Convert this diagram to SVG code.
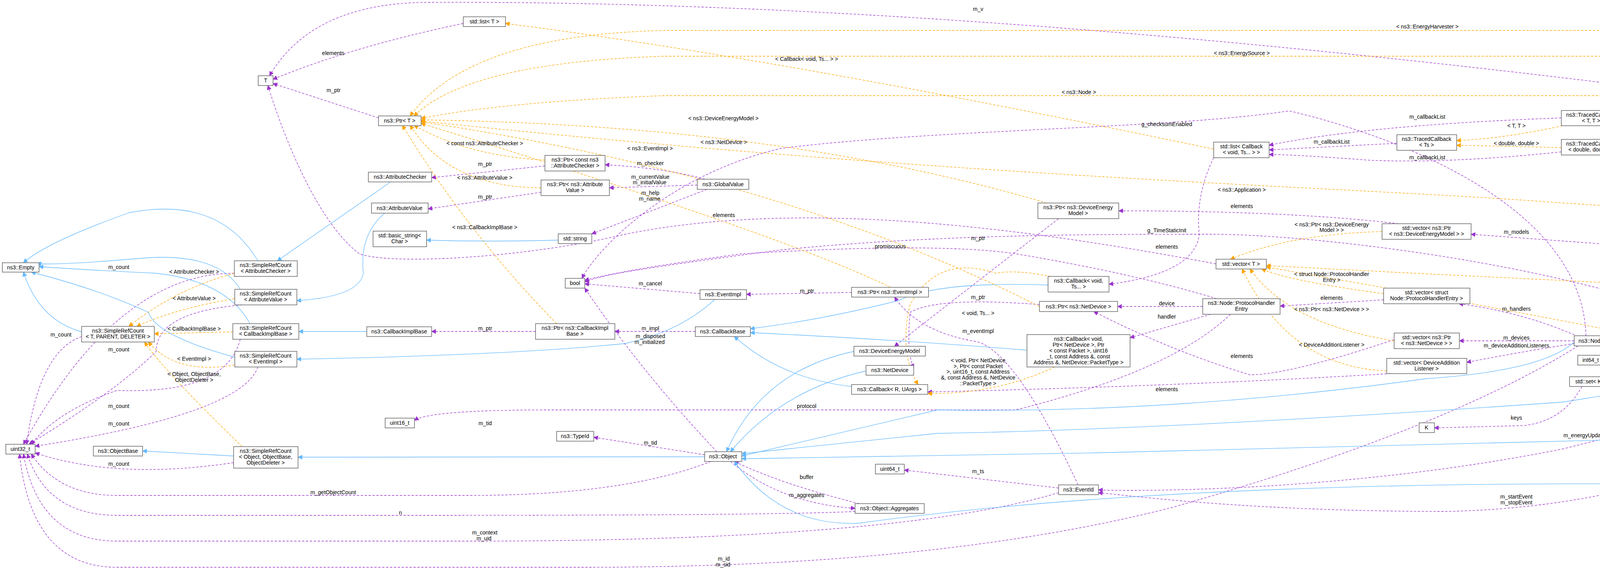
<svg xmlns="http://www.w3.org/2000/svg" width="6448" height="1460" viewBox="0 0 6448 1460">
<style>
text{font-family:"Liberation Sans",Arial,sans-serif;font-size:14px;fill:#000;text-anchor:middle}
.n rect{fill:#fff;stroke:#666;stroke-width:1.5}
.g rect{fill:#999;stroke:#666;stroke-width:1.5}
.p{fill:none;stroke:#9a32cd;stroke-width:1.3;stroke-dasharray:6,4;marker-end:url(#mp)}
.o{fill:none;stroke:#ffa500;stroke-width:1.3;stroke-dasharray:6,4;marker-end:url(#mo)}
.b{fill:none;stroke:#63b8ff;stroke-width:1.3;marker-end:url(#mb)}
</style>
<defs>
<marker id="mp" viewBox="0 0 10 10" refX="9" refY="5" markerWidth="12" markerHeight="12" markerUnits="userSpaceOnUse" orient="auto"><path d="M0,0L10,5L0,10z" fill="#9a32cd"/></marker>
<marker id="mo" viewBox="0 0 10 10" refX="9" refY="5" markerWidth="12" markerHeight="12" markerUnits="userSpaceOnUse" orient="auto"><path d="M0,0L10,5L0,10z" fill="#ffa500"/></marker>
<marker id="mb" viewBox="0 0 10 10" refX="9" refY="5" markerWidth="12" markerHeight="12" markerUnits="userSpaceOnUse" orient="auto"><path d="M0,0L10,5L0,10z" fill="#63b8ff"/></marker>
</defs>
<rect width="6448" height="1460" fill="#fff"/>
<g id="edges">
<!-- purple -->
<path class="p" d="M969,302 L699,214"/>
<path class="p" d="M1186,60 Q900,120 699,203"/>
<path class="p" d="M4480,259 Q2500,0 1100,6 Q800,6 690,194"/>
<path class="p" d="M3113,676 C2500,560 2000,520 1600,600 C1350,660 1000,680 920,650 C800,560 710,300 686,219"/>
<path class="p" d="M1395,425 L1105,455"/>
<path class="p" d="M1395,491 L1096,535"/>
<path class="p" d="M1805,459 Q1700,430 1549,422"/>
<path class="p" d="M1785,474 L1560,481"/>
<path class="p" d="M1810,485 L1515,599"/>
<path class="p" d="M1780,849 L1574,849"/>
<path class="p" d="M1371,849 L1105,849"/>
<path class="p" d="M1792,752 L1497,727"/>
<path class="p" d="M1835,1157 Q1640,950 1497,738"/>
<path class="p" d="M1804,1165 L1520,1120"/>
<path class="p" d="M600,700 Q300,700 60,1138"/>
<path class="p" d="M209,862 Q100,900 68,1138"/>
<path class="p" d="M620,781 Q400,800 400,900 Q300,1000 74,1138"/>
<path class="p" d="M615,869 Q580,1010 300,1000 Q150,1050 80,1138"/>
<path class="p" d="M660,940 Q620,1060 90,1143"/>
<path class="p" d="M598,1185 Q300,1230 90,1160"/>
<path class="p" d="M1820,1182 Q1600,1269 1200,1269 L300,1269 Q150,1269 80,1163"/>
<path class="p" d="M2189,1310 Q2000,1320 1100,1320 L300,1320 Q120,1320 70,1163"/>
<path class="p" d="M2710,1262 Q2300,1386 1200,1386 L300,1386 Q100,1386 60,1163"/>
<path class="p" d="M4040,886 Q3700,1100 3000,1300 Q2400,1453 1500,1453 L300,1453 Q80,1453 50,1163"/>
<path class="p" d="M2180,749 L1911,754"/>
<path class="p" d="M2760,1242 Q2600,900 2500,875 Q2350,850 2290,761"/>
<path class="p" d="M2710,1250 L2315,1204"/>
<path class="p" d="M2200,1290 Q2000,1240 1880,1182"/>
<path class="p" d="M1870,1182 Q2000,1290 2189,1302"/>
<path class="p" d="M2710,560 Q2400,800 2290,887"/>
<path class="p" d="M2661,780 Q2400,760 2330,800 Q2320,900 2339,943"/>
<path class="p" d="M3079,785 L2861,785"/>
<path class="p" d="M3100,805 L2893,865"/>
<path class="p" d="M3115,765 Q2900,700 2600,650 Q2400,620 1900,650 Q1600,690 1497,718"/>
<path class="p" d="M3150,805 Q3000,950 2600,1050 L1400,1050 Q1100,1050 1061,1077"/>
<path class="p" d="M3569,870 Q3300,960 3200,960 Q3000,900 2800,798"/>
<path class="p" d="M3560,957 Q3000,990 2375,1004"/>
<path class="p" d="M3542,768 L3277,784"/>
<path class="p" d="M3580,573 Q3300,540 2864,540"/>
<path class="p" d="M3107,404 Q3060,500 3070,600 Q3060,700 2839,728"/>
<path class="p" d="M3576,367 L3249,384"/>
<path class="p" d="M3997,302 Q3500,320 3249,372"/>
<path class="p" d="M3997,389 Q3700,420 3500,410 Q3300,395 3249,396"/>
<path class="p" d="M4467,270 L4149,297"/>
<path class="p" d="M4819,321 L4149,370"/>
<path class="p" d="M4870,326 L4580,432"/>
<path class="p" d="M4040,862 Q3900,800 3735,778"/>
<path class="p" d="M4030,873 L3736,873"/>
<path class="p" d="M4030,880 Q3900,900 3755,928"/>
<path class="p" d="M4469,710 Q4300,760 4105,860"/>
<path class="p" d="M4509,905 L4105,922"/>
<path class="p" d="M4509,912 Q4300,940 4126,977"/>
<path class="p" d="M4050,990 Q4000,1080 3900,1090 L3672,1096"/>
<path class="p" d="M4060,860 C4050,500 3500,330 3300,284 C3000,330 2400,330 2000,380 C1700,450 1520,650 1490,713"/>
<path class="p" d="M4509,900 C4200,700 3400,600 3100,600 C2800,600 2400,600 2000,640 C1700,680 1550,700 1497,722"/>
<path class="p" d="M4173,630 L3766,600"/>
<path class="p" d="M4860,694 L4420,642"/>
<path class="p" d="M4851,706 L4635,705"/>
<path class="p" d="M4880,988 Q4700,900 4700,800 Q4660,760 4620,717"/>
<path class="p" d="M5261,740 Q4900,760 4580,894"/>
<path class="p" d="M5290,748 C5000,900 4600,1000 4000,1150 C3500,1250 3000,1260 2812,1255"/>
<path class="p" d="M4859,1010 C4500,1150 4200,1300 3700,1310 C3200,1310 2900,1270 2812,1262"/>
<path class="p" d="M4859,1003 Q4700,1000 4600,960 Q4560,940 4540,919"/>
<path class="p" d="M4116,880 C4200,1000 4500,1100 5000,1000 C5300,900 5500,870 5650,861"/>
<path class="p" d="M5325,803 Q5250,930 5100,940 Q5000,950 4986,990"/>
<path class="p" d="M5620,828 L5451,800"/>
<path class="p" d="M5340,722 Q5250,300 5026,313"/>
<path class="p" d="M5310,722 Q5000,560 4586,457"/>
<path class="p" d="M5624,398 L5200,400 Q4800,410 4750,500 Q4700,600 4635,695"/>
<path class="p" d="M5237,352 Q5060,380 5060,450 Q5060,650 4960,694"/>
<path class="p" d="M5630,383 L5459,358"/>
<path class="p" d="M5881,396 L5787,396"/>
<path class="p" d="M6330,664 L6020,409"/>
<path class="p" d="M4993,702 Q5200,686 5400,686 L6236,686"/>
<!-- orange -->
<path class="o" d="M5990,383 Q5900,78 5700,78 L1700,78 Q1200,90 1050,297"/>
<path class="o" d="M5330,333 Q5100,144 4900,144 L1700,144 Q1200,160 1060,297"/>
<path class="o" d="M4480,692 Q4440,300 4300,245 L1700,245 Q1300,260 1078,303"/>
<path class="o" d="M2680,520 Q2000,320 1078,307"/>
<path class="o" d="M2661,785 Q2000,450 1078,312"/>
<path class="o" d="M2280,736 Q2000,600 1078,316"/>
<path class="o" d="M1395,410 Q1200,400 1060,321"/>
<path class="o" d="M1385,481 Q1150,480 1050,321"/>
<path class="o" d="M1425,829 Q1200,600 1030,321"/>
<path class="o" d="M5280,777 C5200,700 4700,560 4000,520 C3500,480 2500,460 1078,310"/>
<path class="o" d="M3107,382 Q2000,150 1294,60"/>
<path class="o" d="M600,700 Q450,740 330,836"/>
<path class="o" d="M601,765 Q450,790 350,836"/>
<path class="o" d="M596,850 L395,855"/>
<path class="o" d="M601,935 Q450,960 380,876"/>
<path class="o" d="M620,1144 Q420,950 370,876"/>
<path class="o" d="M4000,322 Q3850,355 3729,360"/>
<path class="o" d="M3997,378 L3729,372"/>
<path class="o" d="M4830,300 L4638,278"/>
<path class="o" d="M2690,708 Q2600,690 2550,700 Q2400,650 2330,780 Q2300,900 2350,985"/>
<path class="o" d="M2700,940 Q2550,1010 2375,1008"/>
<path class="o" d="M3538,593 Q3300,600 3150,664"/>
<path class="o" d="M3542,752 Q3300,720 3230,689"/>
<path class="o" d="M3569,873 Q3300,830 3200,689"/>
<path class="o" d="M3550,950 Q3300,940 3180,689"/>
<path class="o" d="M5620,840 Q5000,750 4500,742 Q3600,700 3242,680"/>
<path class="o" d="M6320,704 Q6200,1033 6000,1033 L5100,1033 Q4700,1000 4400,900 Q3800,780 3242,684"/>
<!-- blue -->
<path class="b" d="M660,668 Q560,500 330,545 Q120,620 60,673"/>
<path class="b" d="M615,741 Q560,650 380,660 Q150,680 95,675"/>
<path class="b" d="M640,829 Q580,720 400,700 Q200,690 100,683"/>
<path class="b" d="M601,915 Q400,860 380,800 Q250,740 80,697"/>
<path class="b" d="M209,850 Q100,820 60,697"/>
<path class="b" d="M1000,466 L710,668"/>
<path class="b" d="M985,546 Q920,600 930,700 Q920,760 760,770"/>
<path class="b" d="M939,849 L765,849"/>
<path class="b" d="M1830,767 Q1740,850 1600,880 Q1300,910 760,920"/>
<path class="b" d="M1804,1170 L763,1171"/>
<path class="b" d="M598,1168 L365,1155"/>
<path class="b" d="M1429,615 Q1250,620 1092,615"/>
<path class="b" d="M2180,990 Q2000,970 1880,862"/>
<path class="b" d="M2683,730 Q2400,720 2300,770 Q2100,820 1921,842"/>
<path class="b" d="M2629,897 Q2300,870 1921,852"/>
<path class="b" d="M2186,900 Q1950,950 1860,1157"/>
<path class="b" d="M2217,950 Q2000,1000 1870,1157"/>
<path class="b" d="M4030,876 Q3950,950 3650,970 Q3000,1060 2400,1050 L1899,1168"/>
<path class="b" d="M4859,1003 Q4700,1100 4400,1120 Q3500,1140 2800,1160 L1899,1175"/>
<path class="b" d="M4851,707 Q4660,720 4670,850 Q4640,930 4000,1030 Q3000,1100 2400,1110 L1899,1162"/>
<path class="b" d="M5700,409 Q5500,900 5000,1100 Q4700,1240 4300,1240 Q3000,1230 2200,1340 Q2000,1350 1880,1182"/>
<path class="b" d="M5261,735 L4993,710"/>
</g>
<g id="edge-labels">
<text x="853" y="141">elements</text><text x="854" y="236">m_ptr</text>
<text x="304" y="689">m_count</text><text x="497" y="701">&lt; AttributeChecker &gt;</text>
<text x="497" y="769">&lt; AttributeValue &gt;</text><text x="156" y="862">m_count</text>
<text x="497" y="847">&lt; CallbackImplBase &gt;</text><text x="304" y="900">m_count</text>
<text x="497" y="924">&lt; EventImpl &gt;</text><text x="497" y="963">&lt; Object, ObjectBase,</text><text x="497" y="978">ObjectDeleter &gt;</text>
<text x="304" y="1045">m_count</text><text x="304" y="1090">m_count</text><text x="304" y="1193">m_count</text>
<text x="853" y="1266">m_getObjectCount</text><text x="1025" y="1318">n</text>
<text x="2065" y="156">&lt; Callback&lt; void, Ts... &gt; &gt;</text><text x="1852" y="308">&lt; ns3::DeviceEnergyModel &gt;</text>
<text x="1241" y="372">&lt; const ns3::AttributeChecker &gt;</text><text x="1853" y="369">&lt; ns3::NetDevice &gt;</text>
<text x="1664" y="385">&lt; ns3::EventImpl &gt;</text><text x="1242" y="425">m_ptr</text><text x="1665" y="423">m_checker</text>
<text x="1241" y="460">&lt; ns3::AttributeValue &gt;</text><text x="1665" y="458">m_currentValue</text><text x="1663" y="472">m_initialValue</text>
<text x="1242" y="509">m_ptr</text><text x="1665" y="499">m_help</text><text x="1663" y="514">m_name</text>
<text x="1853" y="556">elements</text><text x="1241" y="587">&lt; ns3::CallbackImplBase &gt;</text><text x="1665" y="731">m_cancel</text>
<text x="2066" y="750">m_ptr</text><text x="1242" y="846">m_ptr</text><text x="1665" y="846">m_impl</text>
<text x="1665" y="866">m_disposed</text><text x="1663" y="881">m_initialized</text><text x="2065" y="1045">protocol</text>
<text x="1242" y="1089">m_tid</text><text x="1665" y="1139">m_tid</text><text x="2065" y="1227">buffer</text><text x="2065" y="1273">m_aggregates</text>
<text x="1241" y="1369">m_context</text><text x="1239" y="1384">m_uid</text><text x="1853" y="1436">m_id</text><text x="1851" y="1451">m_sid</text>
<text x="2504" y="28">m_v</text><text x="3179" y="141">&lt; ns3::EnergySource &gt;</text><text x="2762" y="241">&lt; ns3::Node &gt;</text>
<text x="2987" y="323">g_checksumEnabled</text><text x="3179" y="491">&lt; ns3::Application &gt;</text><text x="3179" y="533">elements</text>
<text x="2987" y="595">g_TimeStaticInit</text><text x="2504" y="615">m_ptr</text><text x="2279" y="636">promiscuous</text><text x="2987" y="637">elements</text>
<text x="2504" y="766">m_ptr</text><text x="2987" y="782">device</text><text x="2504" y="807">&lt; void, Ts... &gt;</text><text x="2987" y="816">handler</text>
<text x="2504" y="853">m_eventImpl</text><text x="3179" y="917">elements</text>
<text x="2504" y="928">&lt; void, Ptr&lt; NetDevice</text><text x="2504" y="943">&gt;, Ptr&lt; const Packet</text><text x="2504" y="957">&gt;, uint16_t, const Address</text><text x="2504" y="972">&amp;, const Address &amp;, NetDevice</text><text x="2504" y="987">::PacketType &gt;</text>
<text x="2987" y="1002">elements</text><text x="2504" y="1212">m_ts</text>
<text x="3654" y="73">&lt; ns3::EnergyHarvester &gt;</text><text x="4298" y="277">m_cb</text><text x="3654" y="304">m_callbackList</text>
<text x="3882" y="327">&lt; T, T &gt;</text><text x="3409" y="368">m_callbackList</text><text x="3882" y="372">&lt; double, double &gt;</text><text x="3654" y="408">m_callbackList</text>
<text x="3409" y="580">&lt; ns3::Ptr&lt; ns3::DeviceEnergy</text><text x="3409" y="594">Model &gt; &gt;</text><text x="3882" y="599">m_models</text>
<text x="3409" y="707">&lt; struct Node::ProtocolHandler</text><text x="3409" y="722">Entry &gt;</text>
<text x="3409" y="768">elements</text><text x="3409" y="797">&lt; ns3::Ptr&lt; ns3::NetDevice &gt; &gt;</text><text x="3882" y="796">m_handlers</text><text x="4297" y="744">m_ptr</text>
<text x="3882" y="870">m_devices</text><text x="3882" y="890">m_deviceAdditionListeners</text><text x="3409" y="888">&lt; DeviceAdditionListener &gt;</text>
<text x="4298" y="908">m_data</text><text x="4298" y="936">g_markingTimes</text><text x="3882" y="1075">keys</text><text x="4074" y="1120">m_energyUpdateEvent</text>
<text x="3882" y="1277">m_startEvent</text><text x="3882" y="1292">m_stopEvent</text>
<text x="4730" y="284">&lt; double &gt;</text><text x="5144" y="292">m_remainingEnergyJ</text><text x="4554" y="331">m_cb</text><text x="4730" y="356">m_v</text><text x="5145" y="352">m_ptr</text>
<text x="4923" y="388">m_drainedCapacity</text><text x="4923" y="402">m_eExp</text><text x="4923" y="416">m_eFull</text><text x="4923" y="431">m_eNom</text><text x="4923" y="446">m_initialEnergyJ</text><text x="4923" y="460">m_internalResistance</text><text x="4923" y="475">m_lowBatteryTh</text><text x="4923" y="490">m_minVoltTh</text><text x="4923" y="505">m_qExp</text><text x="4923" y="520">m_qNom</text><text x="4923" y="535">...</text>
<text x="5145" y="397">m_node</text><text x="4554" y="647">m_models</text><text x="4730" y="703">m_node</text>
<text x="4554" y="744">&lt; ns3::Ptr&lt; ns3::Application &gt; &gt;</text><text x="4923" y="747">m_energyUpdateInterval</text><text x="4923" y="762">m_lastUpdateTime</text><text x="4730" y="762">m_node</text>
<text x="5145" y="918">m_ptr</text><text x="4923" y="945">&lt; ns3::Ptr&lt; ns3::EnergyHarvester &gt; &gt;</text><text x="4730" y="964">m_startTime</text><text x="4728" y="980">m_stopTime</text><text x="4923" y="1038">m_applications</text>
<text x="5542" y="360">m_energySource</text><text x="5838" y="393">m_ptr</text><text x="6181" y="520">elements</text><text x="5707" y="680">m_harvesters</text><text x="5542" y="806">elements</text>
</g>
<g id="T" class="n"><rect x="661" y="194" width="38" height="25"/><text x="680" y="211">T</text></g>
<g id="PtrT" class="n"><rect x="969" y="297" width="109" height="25"/><text x="1023" y="314">ns3::Ptr&lt; T &gt;</text></g>
<g id="AttributeChecker" class="n"><rect x="943" y="441" width="162" height="25"/><text x="1024" y="458">ns3::AttributeChecker</text></g>
<g id="AttributeValue" class="n"><rect x="951" y="520" width="145" height="26"/><text x="1023" y="538">ns3::AttributeValue</text></g>
<g id="basic_string" class="n"><rect x="955" y="592" width="137" height="40"/><text x="1023" y="608">std::basic_string&lt;</text><text x="1023" y="623">Char &gt;</text></g>
<g id="Empty" class="n"><rect x="6" y="673" width="94" height="24"/><text x="53" y="690">ns3::Empty</text></g>
<g id="SRC_AC" class="n"><rect x="600" y="668" width="161" height="40"/><text x="680" y="684">ns3::SimpleRefCount</text><text x="680" y="699">&lt; AttributeChecker &gt;</text></g>
<g id="SRC_AV" class="n"><rect x="601" y="741" width="159" height="40"/><text x="680" y="757">ns3::SimpleRefCount</text><text x="680" y="772">&lt; AttributeValue &gt;</text></g>
<g id="SRC_TPD" class="n"><rect x="209" y="836" width="186" height="40"/><text x="302" y="852">ns3::SimpleRefCount</text><text x="302" y="867">&lt; T, PARENT, DELETER &gt;</text></g>
<g id="SRC_CIB" class="n"><rect x="596" y="829" width="169" height="40"/><text x="680" y="845">ns3::SimpleRefCount</text><text x="680" y="860">&lt; CallbackImplBase &gt;</text></g>
<g id="CallbackImplBase" class="n"><rect x="939" y="837" width="166" height="25"/><text x="1022" y="854">ns3::CallbackImplBase</text></g>
<g id="SRC_EI" class="n"><rect x="601" y="900" width="159" height="40"/><text x="680" y="916">ns3::SimpleRefCount</text><text x="680" y="931">&lt; EventImpl &gt;</text></g>
<g id="uint16_t" class="n"><rect x="986" y="1071" width="75" height="25"/><text x="1023" y="1088">uint16_t</text></g>
<g id="uint32_t" class="n"><rect x="15" y="1138" width="75" height="25"/><text x="52" y="1155">uint32_t</text></g>
<g id="ObjectBase" class="n"><rect x="239" y="1143" width="126" height="25"/><text x="302" y="1160">ns3::ObjectBase</text></g>
<g id="SRC_O" class="n"><rect x="598" y="1144" width="165" height="55"/><text x="680" y="1160">ns3::SimpleRefCount</text><text x="680" y="1175">&lt; Object, ObjectBase,</text><text x="680" y="1190">ObjectDeleter &gt;</text></g>
<g id="listT" class="n"><rect x="1186" y="43" width="108" height="25"/><text x="1240" y="60">std::list&lt; T &gt;</text></g>
<g id="PtrCAC" class="n"><rect x="1395" y="398" width="154" height="40"/><text x="1472" y="414">ns3::Ptr&lt; const ns3</text><text x="1472" y="429">::AttributeChecker &gt;</text></g>
<g id="PtrAV" class="n"><rect x="1385" y="461" width="175" height="40"/><text x="1472" y="477">ns3::Ptr&lt; ns3::Attribute</text><text x="1472" y="492">Value &gt;</text></g>
<g id="GlobalValue" class="n"><rect x="1785" y="459" width="132" height="26"/><text x="1851" y="477">ns3::GlobalValue</text></g>
<g id="string" class="n"><rect x="1429" y="599" width="86" height="25"/><text x="1472" y="616">std::string</text></g>
<g id="bool" class="n"><rect x="1447" y="713" width="50" height="25"/><text x="1472" y="730">bool</text></g>
<g id="EventImpl" class="n"><rect x="1792" y="742" width="119" height="25"/><text x="1851" y="759">ns3::EventImpl</text></g>
<g id="PtrCIB" class="n"><rect x="1371" y="829" width="203" height="40"/><text x="1472" y="845">ns3::Ptr&lt; ns3::CallbackImpl</text><text x="1472" y="860">Base &gt;</text></g>
<g id="CallbackBase" class="n"><rect x="1780" y="837" width="141" height="25"/><text x="1850" y="854">ns3::CallbackBase</text></g>
<g id="TypeId" class="n"><rect x="1425" y="1105" width="95" height="25"/><text x="1472" y="1122">ns3::TypeId</text></g>
<g id="Object" class="n"><rect x="1804" y="1157" width="95" height="25"/><text x="1851" y="1174">ns3::Object</text></g>
<g id="PtrEI" class="n"><rect x="2180" y="736" width="197" height="25"/><text x="2278" y="753">ns3::Ptr&lt; ns3::EventImpl &gt;</text></g>
<g id="DeviceEnergyModel" class="n"><rect x="2186" y="887" width="183" height="25"/><text x="2277" y="904">ns3::DeviceEnergyModel</text></g>
<g id="NetDevice" class="n"><rect x="2217" y="936" width="122" height="25"/><text x="2278" y="953">ns3::NetDevice</text></g>
<g id="CallbackR" class="n"><rect x="2180" y="985" width="195" height="25"/><text x="2277" y="1002">ns3::Callback&lt; R, UArgs &gt;</text></g>
<g id="PtrND" class="n"><rect x="2661" y="772" width="200" height="26"/><text x="2761" y="790">ns3::Ptr&lt; ns3::NetDevice &gt;</text></g>
<g id="PHE" class="n"><rect x="3079" y="765" width="198" height="40"/><text x="3178" y="781">ns3::Node::ProtocolHandler</text><text x="3178" y="796">Entry</text></g>
<g id="Callback5" class="n"><rect x="2629" y="857" width="264" height="83"/><text x="2761" y="873">ns3::Callback&lt; void,</text><text x="2761" y="888">Ptr&lt; NetDevice &gt;, Ptr</text><text x="2761" y="903">&lt; const Packet &gt;, uint16</text><text x="2761" y="918">_t, const Address &amp;, const</text><text x="2761" y="933">Address &amp;, NetDevice::PacketType &gt;</text></g>
<g id="uint64_t" class="n"><rect x="2241" y="1189" width="74" height="25"/><text x="2278" y="1206">uint64_t</text></g>
<g id="EventId" class="n"><rect x="2710" y="1242" width="102" height="25"/><text x="2761" y="1259">ns3::EventId</text></g>
<g id="Aggregates" class="n"><rect x="2189" y="1290" width="177" height="25"/><text x="2277" y="1307">ns3::Object::Aggregates</text></g>
<g id="listCb" class="n"><rect x="3107" y="364" width="142" height="40"/><text x="3178" y="380">std::list&lt; Callback</text><text x="3178" y="395">&lt; void, Ts... &gt; &gt;</text></g>
<g id="PtrDEM" class="n"><rect x="2657" y="520" width="207" height="40"/><text x="2760" y="536">ns3::Ptr&lt; ns3::DeviceEnergy</text><text x="2760" y="551">Model &gt;</text></g>
<g id="vecT" class="n"><rect x="3113" y="664" width="129" height="25"/><text x="3177" y="681">std::vector&lt; T &gt;</text></g>
<g id="CallbackVoid" class="n"><rect x="2683" y="708" width="156" height="40"/><text x="2761" y="724">ns3::Callback&lt; void,</text><text x="2761" y="739">Ts... &gt;</text></g>
<g id="TCTT" class="n"><rect x="3997" y="283" width="152" height="39"/><text x="4073" y="299">ns3::TracedCallback</text><text x="4073" y="314">&lt; T, T &gt;</text></g>
<g id="TCTs" class="n"><rect x="3576" y="345" width="153" height="40"/><text x="3652" y="361">ns3::TracedCallback</text><text x="3652" y="376">&lt; Ts &gt;</text></g>
<g id="TCdd" class="n"><rect x="3997" y="357" width="152" height="40"/><text x="4073" y="373">ns3::TracedCallback</text><text x="4073" y="388">&lt; double, double &gt;</text></g>
<g id="vecDEM" class="n"><rect x="3538" y="573" width="228" height="40"/><text x="3652" y="589">std::vector&lt; ns3::Ptr</text><text x="3652" y="604">&lt; ns3::DeviceEnergyModel &gt; &gt;</text></g>
<g id="DEMContainer" class="n"><rect x="4173" y="620" width="247" height="26"/><text x="4296" y="638">ns3::DeviceEnergyModelContainer</text></g>
<g id="vecPHE" class="n"><rect x="3542" y="738" width="221" height="40"/><text x="3652" y="754">std::vector&lt; struct</text><text x="3652" y="769">Node::ProtocolHandlerEntry &gt;</text></g>
<g id="vecND" class="n"><rect x="3569" y="853" width="167" height="40"/><text x="3652" y="869">std::vector&lt; ns3::Ptr</text><text x="3652" y="884">&lt; ns3::NetDevice &gt; &gt;</text></g>
<g id="vecDAL" class="n"><rect x="3550" y="918" width="205" height="39"/><text x="3652" y="934">std::vector&lt; DeviceAddition</text><text x="3652" y="949">Listener &gt;</text></g>
<g id="Node" class="n"><rect x="4030" y="860" width="86" height="26"/><text x="4073" y="878">ns3::Node</text></g>
<g id="int64_t" class="n"><rect x="4039" y="910" width="66" height="25"/><text x="4072" y="927">int64_t</text></g>
<g id="setK" class="n"><rect x="4018" y="965" width="108" height="25"/><text x="4072" y="982">std::set&lt; K &gt;</text></g>
<g id="K" class="n"><rect x="3633" y="1083" width="39" height="25"/><text x="3652" y="1100">K</text></g>
<g id="TVT" class="n"><rect x="4467" y="259" width="171" height="25"/><text x="4552" y="276">ns3::TracedValue&lt; T &gt;</text></g>
<g id="TVd" class="n"><rect x="4819" y="300" width="207" height="26"/><text x="4922" y="318">ns3::TracedValue&lt; double &gt;</text></g>
<g id="double" class="n"><rect x="4520" y="432" width="66" height="25"/><text x="4553" y="449">double</text></g>
<g id="PtrES" class="n"><rect x="5237" y="333" width="222" height="25"/><text x="5348" y="350">ns3::Ptr&lt; ns3::EnergySource &gt;</text></g>
<g id="PtrNode" class="n"><rect x="4469" y="692" width="166" height="25"/><text x="4552" y="709">ns3::Ptr&lt; ns3::Node &gt;</text></g>
<g id="EnergySource" class="n"><rect x="4851" y="694" width="142" height="25"/><text x="4922" y="711">ns3::EnergySource</text></g>
<g id="LiIonEnergySource" class="g"><rect x="5261" y="722" width="174" height="26"/><text x="5348" y="740">ns3::LiIonEnergySource</text></g>
<g id="Time" class="n"><rect x="4509" y="894" width="86" height="25"/><text x="4552" y="911">ns3::Time</text></g>
<g id="PtrApp" class="n"><rect x="5245" y="777" width="206" height="26"/><text x="5348" y="795">ns3::Ptr&lt; ns3::Application &gt;</text></g>
<g id="Application" class="n"><rect x="4859" y="988" width="127" height="26"/><text x="4922" y="1006">ns3::Application</text></g>
<g id="EnergyHarvester" class="n"><rect x="5624" y="383" width="163" height="26"/><text x="5705" y="401">ns3::EnergyHarvester</text></g>
<g id="PtrEH" class="n"><rect x="5881" y="383" width="242" height="26"/><text x="6002" y="401">ns3::Ptr&lt; ns3::EnergyHarvester &gt;</text></g>
<g id="vecEH" class="n"><rect x="6236" y="664" width="207" height="40"/><text x="6339" y="680">std::vector&lt; ns3::Ptr</text><text x="6339" y="695">&lt; ns3::EnergyHarvester &gt; &gt;</text></g>
<g id="vecApp" class="n"><rect x="5620" y="821" width="171" height="40"/><text x="5705" y="837">std::vector&lt; ns3::Ptr</text><text x="5705" y="852">&lt; ns3::Application &gt; &gt;</text></g>
</svg>
